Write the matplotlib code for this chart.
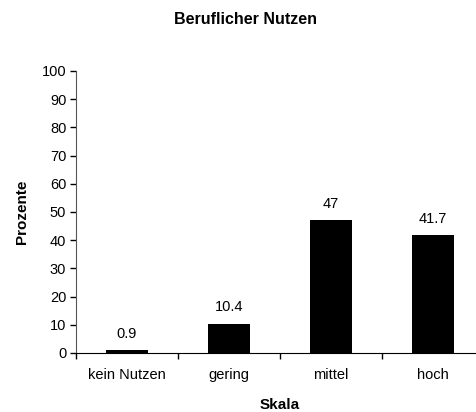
import matplotlib.pyplot as plt
import numpy as np

categories = ["kein Nutzen", "gering", "mittel", "hoch"]
values = [0.9, 10.4, 47, 41.7]
value_labels = ["0.9", "10.4", "47", "41.7"]
y_ticks = [0, 10, 20, 30, 40, 50, 60, 70, 80, 90, 100]

plt.rcParams['font.family'] = ['Liberation Sans', 'DejaVu Sans']

fig = plt.figure(figsize=(4.77, 4.12), dpi=100)
ax = fig.add_axes([76 / 477, 1 - 353 / 412, 408 / 477, 282 / 412])

x = np.arange(len(categories))
ax.bar(x, values, width=0.41, color="black")

for xi, v, lab in zip(x, values, value_labels):
    ax.annotate(lab, (xi, v), xytext=(0, 7), textcoords="offset points",
                ha="center", va="bottom", fontsize=10.5)

ax.set_xlim(-0.5, len(categories) - 0.5)
ax.set_ylim(0, 100)
ax.set_yticks(y_ticks)
ax.set_yticklabels([str(t) for t in y_ticks], fontsize=10.5)

# category labels between boundary ticks, Excel style
ax.set_xticks(x)
ax.set_xticklabels(categories, fontsize=10.5)
ax.tick_params(axis="x", which="major", length=0, pad=11)
ax.set_xticks(np.arange(-0.5, len(categories), 1.0), minor=True)
ax.tick_params(axis="x", which="minor", length=4, direction="out", width=1)
ax.tick_params(axis="y", length=4, direction="out", width=1, pad=3)

for s in ["top", "right"]:
    ax.spines[s].set_visible(False)
ax.spines["left"].set_color("#555555")
ax.spines["bottom"].set_color("black")

ax.set_ylabel("Prozente", fontsize=11, fontweight="bold", labelpad=9)
ax.set_xlabel("Skala", fontsize=11, fontweight="bold", labelpad=11)
fig.text(246 / 477, 1 - 19 / 412, "Beruflicher Nutzen", ha="center", va="center",
         fontsize=11.5, fontweight="bold")

fig.savefig("out.png", dpi=100)
